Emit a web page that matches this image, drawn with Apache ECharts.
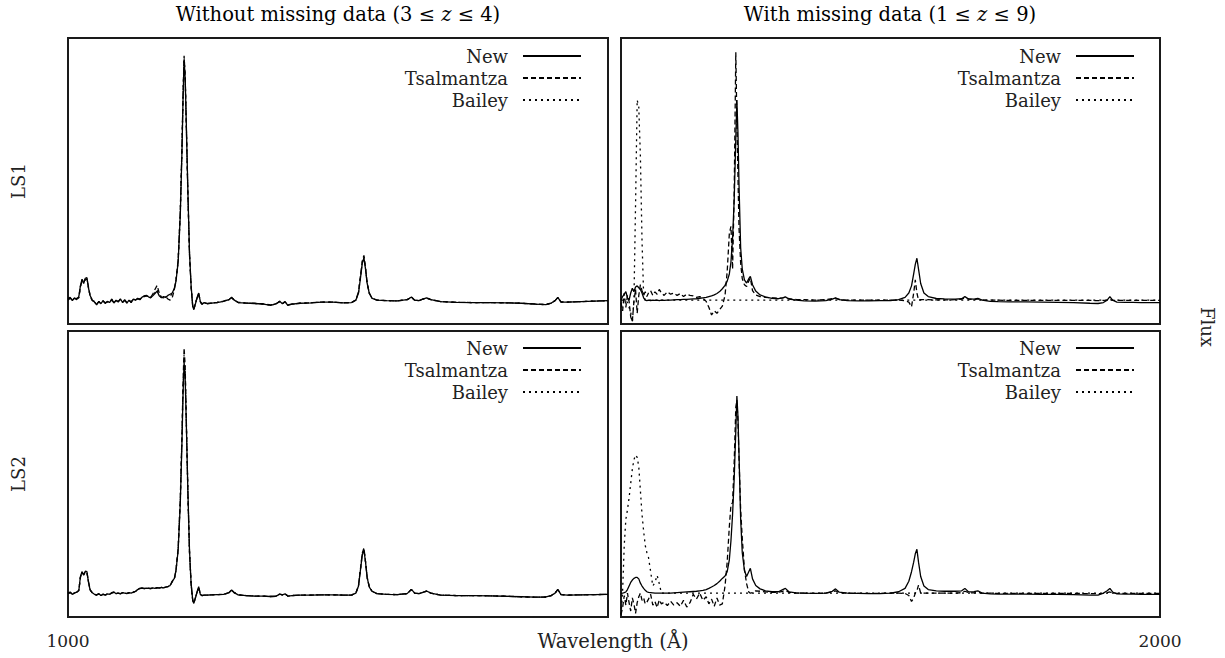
<!DOCTYPE html>
<html><head><meta charset="utf-8">
<script src="https://cdn.jsdelivr.net/npm/echarts@6/dist/echarts.min.js"></script>
<style>html,body{margin:0;padding:0;background:#fff}#c{width:1225px;height:658px}</style>
</head><body><div id="c"></div>
<script>
// ---------- DATA ----------
const seriesNames = ['New', 'Tsalmantza', 'Bailey'];
const columnTitles = ['Without missing data (3 \u2264 ', 'z', ' \u2264 4)', 'With missing data (1 \u2264 ', 'z', ' \u2264 9)'];
const rowLabels = ['LS1', 'LS2'];
const xTickLabels = ['1000', '2000'];
const xAxisTitle = 'Wavelength (\u00C5)';
const yAxisTitle = 'Flux';

// wavelength grid for the left column (Angstrom)
const waveL = [
1000,1004,1008,1012,1016,1020,1023,1026,1029,1032,
1035,1038,1041,1045,1049,1053,1057,1061,1065,1069,
1073,1077,1081,1085,1089,1093,1097,1101,1105,1109,
1113,1117,1121,1125,1129,1133,1137,1141,1145,1149,
1153,1157,1161,1165,1169,1173,1177,1181,1185,1189,
1193,1197,1200,1204,1208,1211,1213,1215,1217,1219,
1222,1225,1228,1231,1233,1236,1239,1242,1245,1248,
1252,1258,1266,1276,1288,1298,1303,1308,1315,1330,
1345,1360,1375,1385,1392,1397,1402,1407,1415,1430,
1450,1470,1490,1510,1525,1533,1538,1542,1545,1548,
1551,1554,1558,1563,1572,1590,1610,1628,1636,1642,
1650,1657,1664,1672,1690,1720,1750,1780,1810,1840,
1865,1885,1895,1902,1907,1913,1925,1950,1975,2000];

const ls1LeftNew = [
1.05,1.12,0.98,1.10,1.02,1.15,1.60,1.88,1.70,1.92,
1.95,1.50,1.20,1.00,0.92,0.80,0.95,0.85,0.98,0.86,
0.95,0.90,1.05,0.88,1.00,0.92,1.06,0.90,1.02,0.88,
1.00,0.90,1.05,1.00,1.08,1.02,1.12,1.18,1.20,1.14,
1.10,1.18,1.28,1.38,1.18,1.10,1.15,1.12,1.20,1.25,
1.30,1.50,1.80,2.60,4.60,7.20,9.40,11.10,10.30,8.50,
5.60,3.00,1.60,0.75,0.60,0.85,1.10,1.30,0.95,0.82,
0.90,0.85,0.88,0.90,0.95,1.02,1.12,1.00,0.90,0.88,
0.86,0.84,0.78,0.84,0.95,0.85,0.94,0.78,0.83,0.87,
0.89,0.92,0.92,0.89,0.90,1.00,1.30,2.00,2.55,2.78,
2.30,1.70,1.28,1.08,1.00,0.98,0.97,1.02,1.13,1.00,
0.98,1.04,1.10,1.02,0.94,0.91,0.90,0.90,0.89,0.87,
0.83,0.81,0.88,0.98,1.12,0.92,0.92,0.94,0.96,0.98];
const ls1LeftTsal = [
1.00,1.08,1.02,1.05,1.08,1.10,1.55,1.82,1.78,1.85,
1.90,1.55,1.15,0.98,0.95,0.84,0.92,0.88,0.95,0.90,
0.92,0.93,1.00,0.90,0.98,0.95,1.02,0.92,0.98,0.92,
0.98,0.94,1.02,1.02,1.05,1.05,1.10,1.15,1.18,1.16,
1.12,1.25,1.45,1.62,1.30,1.12,1.10,1.15,1.05,1.00,
1.10,1.45,1.85,2.70,4.80,7.40,9.60,11.25,10.40,8.40,
5.40,2.90,1.55,0.72,0.62,0.88,1.08,1.28,0.93,0.84,
0.90,0.86,0.88,0.91,0.96,1.03,1.10,1.00,0.91,0.88,
0.87,0.85,0.80,0.85,0.94,0.86,0.93,0.80,0.84,0.87,
0.89,0.92,0.92,0.89,0.90,1.00,1.35,2.10,2.65,2.88,
2.35,1.72,1.30,1.08,1.00,0.98,0.97,1.02,1.12,1.00,
0.98,1.04,1.09,1.02,0.94,0.91,0.90,0.90,0.89,0.87,
0.84,0.82,0.88,0.98,1.10,0.93,0.92,0.94,0.96,0.98];
const ls1LeftBailey = [
1.08,1.10,1.00,1.08,1.04,1.12,1.58,1.85,1.74,1.90,
1.92,1.52,1.18,1.00,0.93,0.82,0.94,0.86,0.97,0.87,
0.94,0.91,1.04,0.89,0.99,0.93,1.05,0.91,1.01,0.89,
0.99,0.91,1.04,1.01,1.07,1.03,1.11,1.17,1.19,1.15,
1.11,1.20,1.32,1.45,1.22,1.11,1.14,1.13,1.16,1.18,
1.25,1.48,1.82,2.65,4.70,7.30,9.50,11.15,10.35,8.45,
5.50,2.95,1.58,0.74,0.61,0.86,1.09,1.29,0.94,0.83,
0.90,0.85,0.88,0.90,0.95,1.02,1.11,1.00,0.90,0.88,
0.86,0.84,0.79,0.84,0.95,0.85,0.94,0.79,0.83,0.87,
0.89,0.92,0.92,0.89,0.90,1.00,1.32,2.05,2.60,2.82,
2.32,1.71,1.29,1.08,1.00,0.98,0.97,1.02,1.13,1.00,
0.98,1.04,1.10,1.02,0.94,0.91,0.90,0.90,0.89,0.87,
0.83,0.81,0.88,0.98,1.11,0.92,0.92,0.94,0.96,0.98];

const ls2LeftNew = [
0.98,1.02,0.95,1.00,1.05,1.10,1.70,1.90,1.75,1.92,
1.90,1.45,1.13,1.02,0.95,0.92,0.98,0.90,0.96,0.92,
0.97,0.95,1.02,1.05,0.98,1.00,0.97,1.02,1.00,0.98,
1.02,1.00,1.04,1.08,1.15,1.20,1.22,1.19,1.21,1.20,
1.19,1.22,1.20,1.23,1.21,1.24,1.22,1.25,1.28,1.32,
1.50,1.62,1.95,2.80,4.80,7.30,9.30,10.70,10.00,8.20,
5.30,2.80,1.40,0.70,0.57,0.80,1.05,1.27,0.95,0.90,
0.92,0.92,0.93,0.94,0.95,1.02,1.13,1.02,0.93,0.90,
0.88,0.88,0.86,0.87,0.96,0.93,0.97,0.88,0.90,0.92,
0.92,0.93,0.93,0.92,0.92,1.00,1.30,2.05,2.60,2.81,
2.30,1.65,1.25,1.08,0.98,0.95,0.94,0.98,1.16,1.00,
0.98,1.03,1.09,1.00,0.92,0.90,0.90,0.89,0.87,0.85,
0.83,0.84,0.90,1.00,1.16,0.94,0.92,0.93,0.94,0.95];
const ls2LeftTsal = [
1.00,1.05,0.97,1.02,1.03,1.12,1.65,1.88,1.78,1.90,
1.88,1.48,1.15,1.00,0.96,0.93,0.97,0.91,0.95,0.93,
0.96,0.96,1.00,1.03,0.99,1.00,0.98,1.01,0.99,0.99,
1.01,1.01,1.03,1.07,1.14,1.19,1.21,1.20,1.20,1.21,
1.20,1.21,1.21,1.22,1.22,1.23,1.23,1.25,1.27,1.30,
1.48,1.60,1.98,2.90,5.00,7.60,9.80,11.30,10.50,8.40,
5.20,2.70,1.35,0.68,0.58,0.82,1.04,1.25,0.96,0.90,
0.92,0.92,0.93,0.94,0.95,1.02,1.13,1.02,0.93,0.90,
0.88,0.88,0.86,0.87,0.96,0.93,0.97,0.88,0.90,0.92,
0.92,0.93,0.93,0.92,0.92,1.00,1.33,2.10,2.68,2.90,
2.32,1.66,1.26,1.08,0.98,0.95,0.94,0.98,1.15,1.00,
0.98,1.03,1.09,1.00,0.92,0.90,0.90,0.89,0.87,0.85,
0.83,0.84,0.90,1.00,1.15,0.94,0.92,0.93,0.94,0.95];
const ls2LeftBailey = [
0.99,1.03,0.96,1.01,1.04,1.11,1.68,1.89,1.76,1.91,
1.89,1.46,1.14,1.01,0.95,0.92,0.98,0.90,0.96,0.92,
0.97,0.95,1.01,1.04,0.98,1.00,0.97,1.02,1.00,0.98,
1.02,1.00,1.04,1.08,1.15,1.20,1.22,1.19,1.21,1.20,
1.19,1.22,1.20,1.23,1.21,1.24,1.22,1.25,1.28,1.31,
1.49,1.61,1.96,2.85,4.90,7.45,9.55,11.00,10.25,8.30,
5.25,2.75,1.38,0.69,0.57,0.81,1.05,1.26,0.95,0.90,
0.92,0.92,0.93,0.94,0.95,1.02,1.13,1.02,0.93,0.90,
0.88,0.88,0.86,0.87,0.96,0.93,0.97,0.88,0.90,0.92,
0.92,0.93,0.93,0.92,0.92,1.00,1.32,2.08,2.62,2.84,
2.31,1.66,1.26,1.08,0.98,0.95,0.94,0.98,1.16,1.00,
0.98,1.03,1.09,1.00,0.92,0.90,0.90,0.89,0.87,0.85,
0.83,0.84,0.90,1.00,1.16,0.94,0.92,0.93,0.94,0.95];

// wavelength grid for the right column (Angstrom)
const waveR = [
1000,1003,1006,1009,1012,1015,1018,1021,1024,1027,
1030,1033,1036,1039,1042,1045,1048,1051,1055,1059,
1063,1067,1071,1075,1080,1086,1092,1098,1104,1110,
1116,1122,1128,1134,1140,1146,1152,1158,1163,1168,
1173,1178,1183,1188,1193,1197,1201,1204,1207,1210,
1213,1215,1217,1219,1222,1225,1229,1233,1237,1240,
1244,1250,1258,1268,1280,1292,1300,1305,1312,1325,
1340,1360,1380,1392,1398,1405,1420,1440,1460,1480,
1500,1515,1527,1534,1539,1543,1546,1549,1552,1556,
1562,1570,1585,1600,1620,1632,1638,1645,1655,1662,
1670,1685,1700,1720,1750,1780,1810,1840,1870,1885,
1895,1902,1907,1912,1920,1935,1950,1965,1980,2000];

const ls1RightNew = [
1.00,1.15,1.25,1.36,1.10,1.00,1.30,1.50,1.35,1.55,
1.60,1.52,1.45,1.30,1.10,1.00,0.98,1.00,0.98,1.00,
0.99,1.00,0.98,1.00,0.99,1.00,1.00,1.01,1.02,1.02,
1.03,1.03,1.04,1.05,1.06,1.08,1.10,1.12,1.15,1.18,
1.22,1.28,1.36,1.48,1.62,1.80,2.10,2.60,3.60,5.20,
7.80,9.40,8.00,5.80,3.20,2.30,1.85,1.72,1.90,2.00,
1.65,1.38,1.22,1.14,1.08,1.06,1.10,1.14,1.04,1.00,
0.97,0.96,0.98,1.04,1.10,1.02,0.98,0.97,0.97,0.98,
0.98,1.02,1.12,1.30,1.60,2.10,2.50,2.76,2.30,1.70,
1.30,1.15,1.07,1.05,1.04,1.06,1.15,1.05,1.04,1.08,
1.00,0.95,0.94,0.93,0.93,0.92,0.91,0.90,0.87,0.86,
0.90,1.00,1.15,1.00,0.92,0.91,0.91,0.90,0.90,0.90];
const ls1RightTsal = [
0.90,0.55,1.30,0.70,1.20,0.95,0.30,0.10,0.95,1.45,
0.45,1.20,1.65,1.40,1.20,1.35,1.15,1.30,1.40,1.20,
1.35,1.25,1.45,1.30,1.20,1.35,1.25,1.30,1.20,1.28,
1.15,1.25,1.20,1.18,1.12,1.15,1.08,0.95,0.70,0.38,
0.55,0.45,0.60,0.75,1.20,2.20,3.80,4.10,2.30,5.50,
11.40,8.50,6.20,4.00,2.55,1.90,1.65,1.57,1.80,1.93,
1.40,1.22,1.15,1.12,1.10,1.08,1.10,1.12,1.06,1.03,
1.02,1.00,1.02,1.06,1.08,1.03,1.00,1.00,1.00,1.00,
1.00,1.00,0.98,0.92,0.72,1.30,1.85,1.30,1.00,1.02,
1.02,1.02,1.01,1.01,1.02,1.04,1.10,1.04,1.02,1.05,
1.01,1.00,1.00,0.99,0.99,0.99,0.99,0.99,0.99,0.98,
0.99,1.00,1.03,0.99,0.99,0.99,0.99,0.99,0.99,0.99];
const ls1RightBailey = [
1.00,1.00,1.00,0.98,0.90,0.70,0.50,0.05,1.00,5.00,
9.40,9.10,7.00,3.50,1.20,1.00,1.00,1.00,1.00,1.00,
1.00,1.00,1.00,1.00,1.00,1.00,1.00,1.00,1.00,1.00,
1.00,1.00,1.00,1.00,1.00,1.00,1.00,1.00,1.00,1.00,
1.00,1.00,1.00,1.00,1.00,1.00,1.00,1.00,1.00,1.00,
1.00,1.00,1.00,1.00,1.00,1.00,1.00,1.00,1.00,1.00,
1.00,1.00,1.00,1.00,1.00,1.00,1.00,1.00,1.00,1.00,
1.00,1.00,1.00,1.00,1.00,1.00,1.00,1.00,1.00,1.00,
1.00,1.00,1.00,1.00,1.00,1.00,1.00,1.00,1.00,1.00,
1.00,1.00,1.00,1.00,1.00,1.00,1.00,1.00,1.00,1.00,
1.00,1.00,1.00,1.00,1.00,1.00,1.00,1.00,1.00,1.00,
1.00,1.00,1.00,1.00,1.00,1.00,1.00,1.00,1.00,1.00];

const ls2RightNew = [
0.99,1.00,1.02,1.05,1.15,1.30,1.45,1.55,1.62,1.66,
1.66,1.60,1.42,1.30,1.20,1.12,1.06,1.03,1.02,1.01,
1.00,1.00,1.00,1.00,1.00,1.00,1.00,1.01,1.02,1.03,
1.04,1.05,1.06,1.07,1.08,1.10,1.12,1.15,1.20,1.26,
1.32,1.40,1.50,1.62,1.72,1.90,2.40,3.20,4.30,5.80,
7.80,9.27,8.40,6.80,4.10,2.70,1.95,1.70,1.90,2.04,
1.60,1.32,1.18,1.10,1.06,1.06,1.15,1.20,1.05,1.01,
1.00,0.99,1.00,1.08,1.18,1.04,1.00,0.99,0.98,0.98,
1.00,1.06,1.20,1.50,1.90,2.30,2.65,2.84,2.30,1.70,
1.30,1.15,1.10,1.08,1.08,1.10,1.20,1.05,1.06,1.10,
1.00,0.97,0.96,0.96,0.96,0.95,0.95,0.94,0.92,0.92,
1.00,1.10,1.20,1.05,0.97,0.96,0.96,0.95,0.95,0.95];
const ls2RightTsal = [
0.10,0.40,0.90,0.50,1.00,0.60,0.25,0.80,0.55,0.15,
0.60,0.85,1.00,0.70,0.80,0.55,0.62,0.75,0.95,0.50,
0.65,0.40,0.72,0.55,0.62,0.48,0.66,0.50,0.60,0.45,
0.70,0.42,0.60,0.95,0.75,1.00,0.70,0.85,0.55,0.75,
0.45,0.80,0.50,0.55,1.30,2.30,3.80,4.70,4.80,6.50,
8.80,9.10,8.20,6.60,4.50,3.30,2.00,1.40,1.05,1.00,
1.02,1.10,1.08,1.05,1.03,1.04,1.08,1.12,1.03,1.00,
1.00,0.99,1.00,1.05,1.10,1.02,1.00,0.99,0.99,0.99,
1.00,1.00,0.99,0.90,0.65,0.80,1.00,1.10,1.34,1.00,
1.00,1.00,1.00,1.00,1.00,1.02,1.08,1.02,1.01,1.03,
1.00,1.00,0.99,0.99,0.99,0.99,0.99,0.99,0.98,0.98,
0.99,1.02,1.05,1.00,0.99,0.99,0.99,0.99,0.99,0.99];
const ls2RightBailey = [
0.10,1.10,3.00,4.10,4.50,5.00,5.60,6.20,6.60,6.80,
6.70,6.30,5.30,4.30,3.60,3.00,2.70,2.50,1.90,1.30,
1.45,1.75,1.40,1.00,1.00,1.00,1.00,1.00,1.00,1.00,
1.00,1.00,1.00,1.00,1.00,1.00,1.00,1.00,1.00,1.00,
1.00,1.00,1.00,1.00,1.00,1.00,1.00,1.00,1.00,1.00,
1.00,1.00,1.00,1.00,1.00,1.00,1.00,1.00,1.00,1.00,
1.00,1.00,1.00,1.00,1.00,1.00,1.00,1.00,1.00,1.00,
1.00,1.00,1.00,1.00,1.00,1.00,1.00,1.00,1.00,1.00,
1.00,1.00,1.00,1.00,1.00,1.00,1.00,1.00,1.00,1.00,
1.00,1.00,1.00,1.00,1.00,1.00,1.00,1.00,1.00,1.00,
1.00,1.00,1.00,1.00,1.00,1.00,1.00,1.00,1.00,1.00,
1.00,1.00,1.00,1.00,1.00,1.00,1.00,1.00,1.00,1.00];

// ---------- LAYOUT / STYLE ----------
const FONT = 'DejaVu Serif';
const TEXT_COLOR = '#222';
const styleByName = {
  'New':        { type: 'solid', width: 1.3 },
  'Tsalmantza': { type: [5, 3], width: 1.3 },
  'Bailey':     { type: [2, 4], width: 1.3 }
};
const panels = [
  { grid: { left: 68,  top: 38,  width: 540, height: 286 }, wave: waveL, vals: { 'New': ls1LeftNew,  'Tsalmantza': ls1LeftTsal,  'Bailey': ls1LeftBailey },  legend: { right: 643, top: 46 } },
  { grid: { left: 621, top: 38,  width: 539, height: 286 }, wave: waveR, vals: { 'New': ls1RightNew, 'Tsalmantza': ls1RightTsal, 'Bailey': ls1RightBailey }, legend: { right: 90,  top: 46 } },
  { grid: { left: 68,  top: 331, width: 540, height: 286 }, wave: waveL, vals: { 'New': ls2LeftNew,  'Tsalmantza': ls2LeftTsal,  'Bailey': ls2LeftBailey },  legend: { right: 643, top: 338 }, xLabel: 0 },
  { grid: { left: 621, top: 331, width: 539, height: 286 }, wave: waveR, vals: { 'New': ls2RightNew, 'Tsalmantza': ls2RightTsal, 'Bailey': ls2RightBailey }, legend: { right: 90,  top: 338 }, xLabel: 1 }
];

function zip(wave, vals) {
  if (wave.length !== vals.length) console.error('length mismatch', wave.length, vals.length);
  return vals.map((v, i) => [wave[i], v]);
}

const grids = [], xAxes = [], yAxes = [], series = [], legends = [];
panels.forEach((p, i) => {
  grids.push(Object.assign({ show: true, borderColor: '#1a1a1a', borderWidth: 2, backgroundColor: 'transparent' }, p.grid));
  const hasLabel = p.xLabel !== undefined;
  xAxes.push({
    gridIndex: i, type: 'value', min: 1000, max: 2000, interval: 1000,
    axisLine: { show: false }, axisTick: { show: false }, splitLine: { show: false },
    axisLabel: {
      show: hasLabel, margin: 15, fontFamily: FONT, fontSize: 17, color: TEXT_COLOR,
      formatter: function (v) {
        if (!hasLabel) return '';
        const idx = v === 1000 ? 0 : (v === 2000 ? 1 : -1);
        return idx === p.xLabel ? xTickLabels[idx] : '';
      }
    }
  });
  yAxes.push({
    gridIndex: i, type: 'value', min: 0, max: 12,
    axisLine: { show: false }, axisTick: { show: false }, splitLine: { show: false }, axisLabel: { show: false }
  });
  ['Bailey', 'Tsalmantza', 'New'].forEach(name => {
    series.push({
      type: 'line', name: name, xAxisIndex: i, yAxisIndex: i,
      data: zip(p.wave, p.vals[name]),
      symbol: 'none', showSymbol: false, clip: true, silent: true,
      lineStyle: Object.assign({ color: '#000' }, styleByName[name]),
      itemStyle: { color: '#000' },
      z: name === 'New' ? 4 : (name === 'Tsalmantza' ? 3 : 2),
      animation: false
    });
  });
  legends.push({
    orient: 'vertical', align: 'right', right: p.legend.right, top: p.legend.top, padding: 0,
    itemWidth: 58, itemHeight: 10, itemGap: 2, selectedMode: false,
    data: seriesNames,
    itemStyle: { opacity: 0 },
    textStyle: { fontFamily: FONT, fontSize: 18, color: TEXT_COLOR, lineHeight: 20, padding: [0, 10, 0, 0] }
  });
});

const richStyles = {
  n: { fontFamily: FONT, fontSize: 19.5, color: TEXT_COLOR },
  i: { fontFamily: FONT, fontSize: 19.5, color: TEXT_COLOR, fontStyle: 'italic' }
};
const graphics = [
  { type: 'text', x: 338, y: 14, style: { text: '{n|' + columnTitles[0] + '}{i|' + columnTitles[1] + '}{n|' + columnTitles[2] + '}', rich: richStyles, align: 'center', verticalAlign: 'middle' } },
  { type: 'text', x: 890, y: 14, style: { text: '{n|' + columnTitles[3] + '}{i|' + columnTitles[4] + '}{n|' + columnTitles[5] + '}', rich: richStyles, align: 'center', verticalAlign: 'middle' } },
  { type: 'text', x: 18, y: 181, rotation: Math.PI / 2, style: { text: rowLabels[0], fontFamily: FONT, fontSize: 18, fill: TEXT_COLOR, align: 'center', verticalAlign: 'middle' } },
  { type: 'text', x: 18, y: 474, rotation: Math.PI / 2, style: { text: rowLabels[1], fontFamily: FONT, fontSize: 18, fill: TEXT_COLOR, align: 'center', verticalAlign: 'middle' } },
  { type: 'text', x: 1207, y: 327, rotation: -Math.PI / 2, style: { text: yAxisTitle, fontFamily: FONT, fontSize: 18, fill: TEXT_COLOR, align: 'center', verticalAlign: 'middle' } },
  { type: 'text', x: 613, y: 641, style: { text: xAxisTitle, fontFamily: FONT, fontSize: 19.5, fill: TEXT_COLOR, align: 'center', verticalAlign: 'middle' } }
];

const chart = echarts.init(document.getElementById('c'), null, { renderer: 'svg' });
chart.setOption({
  animation: false,
  backgroundColor: '#fff',
  grid: grids, xAxis: xAxes, yAxis: yAxes, series: series, legend: legends,
  graphic: graphics
});
</script>
</body></html>
